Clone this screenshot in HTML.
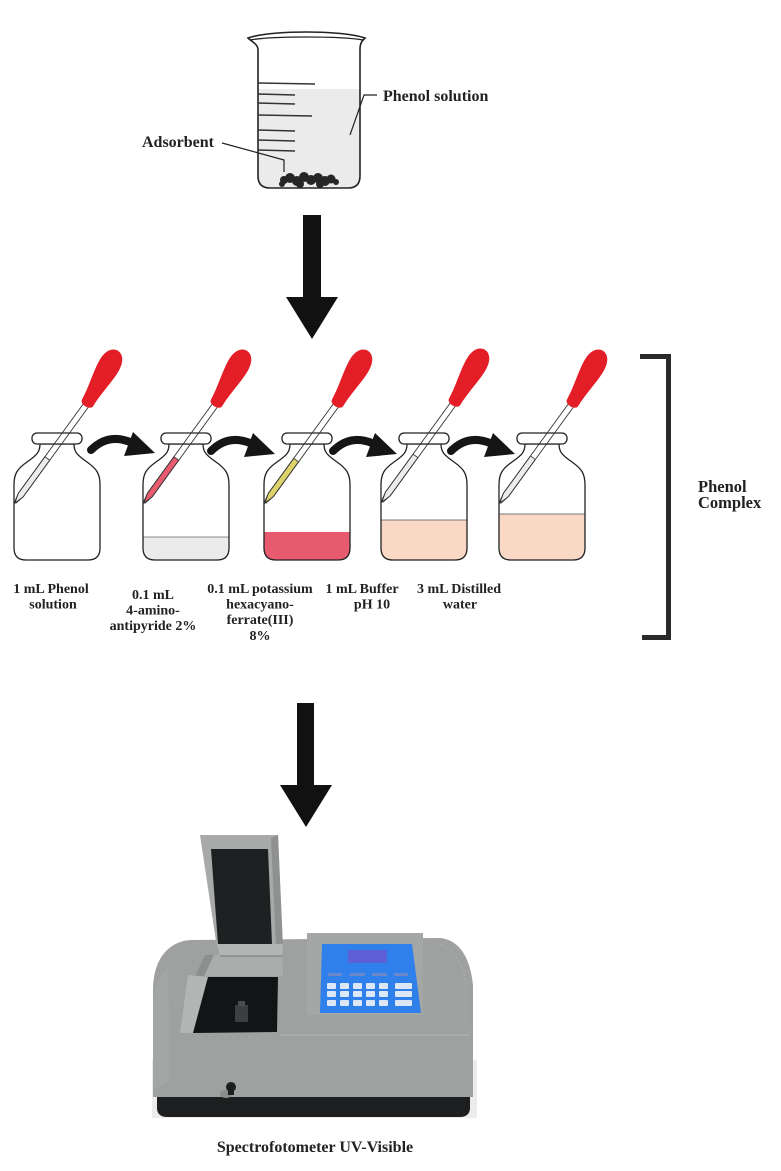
<!DOCTYPE html>
<html>
<head>
<meta charset="utf-8">
<style>
  html,body{margin:0;padding:0;background:#fff;}
  body{width:781px;height:1171px;overflow:hidden;position:relative;}
  svg{position:absolute;left:0;top:0;}
  text{font-family:"Liberation Serif",serif;font-weight:bold;fill:#222;}
</style>
</head>
<body>
<svg width="781" height="1171" viewBox="0 0 781 1171" xmlns="http://www.w3.org/2000/svg">
  <defs>
    <path id="bottleShape" d="M27,444 C27,452 24,455 14,462 C4,469 1,474 1,485 L1,548 C1,556 5,560 13,560 L75,560 C83,560 87,556 87,548 L87,485 C87,474 84,469 74,462 C64,455 61,452 61,444 Z"/>
    <clipPath id="bclip"><use href="#bottleShape"/></clipPath>
    <g id="dropperBase">
      <path d="M-0.8,0 L-3,-10 L-3,-123 M0.8,0 L3,-10 L3,-123" fill="none" stroke="#333" stroke-width="0.9"/>
      <g transform="rotate(-6 0 -122)">
        <path d="M-6.5,-124 C-7,-140 -11,-154 -11,-167 C-11,-178 -6,-184 0,-184 C6,-184 11,-178 11,-167 C11,-154 7,-140 6.5,-124 C6.5,-118 -6.5,-118 -6.5,-124 Z" fill="#e31e26"/>
      </g>
    </g>
    <g id="carrow">
      <path d="M3,3 Q20,-14 42,-5" fill="none" stroke="#151515" stroke-width="8" stroke-linecap="round"/>
      <polygon points="45,-15 67,6 36,9" fill="#151515"/>
    </g>
  </defs>

  <!-- ===== Beaker ===== -->
  <path d="M258,89 L360,89 L360,176 C360,184 356,188 348,188 L270,188 C262,188 258,184 258,176 Z" fill="#ebebeb"/>
  <path d="M258,50 C258,44 252,42 248,38 C262,33 290,32 306,32 C322,32 350,33 365,38 C361,42 360,44 360,50 L360,176 C360,184 356,188 348,188 L270,188 C262,188 258,184 258,176 Z" fill="none" stroke="#222" stroke-width="1.6"/>
  <path d="M250,40 C272,36 340,36 363,40" fill="none" stroke="#222" stroke-width="1.2"/>
  <g stroke="#333" stroke-width="1.6">
    <line x1="258" y1="83" x2="315" y2="84"/>
    <line x1="258" y1="94" x2="295" y2="95"/>
    <line x1="258" y1="103" x2="295" y2="104"/>
    <line x1="258" y1="115" x2="312" y2="116"/>
    <line x1="258" y1="130" x2="295" y2="131"/>
    <line x1="258" y1="140" x2="295" y2="141"/>
    <line x1="258" y1="150" x2="295" y2="151"/>
  </g>
  <g fill="#262626">
    <circle cx="284" cy="180" r="4"/><circle cx="290" cy="178" r="5"/><circle cx="297" cy="181" r="5"/>
    <circle cx="304" cy="177" r="5"/><circle cx="311" cy="180" r="5"/><circle cx="318" cy="178" r="5"/>
    <circle cx="325" cy="181" r="5"/><circle cx="331" cy="179" r="4.5"/><circle cx="336" cy="182" r="3"/>
    <circle cx="282" cy="184" r="3"/><circle cx="300" cy="184" r="4"/><circle cx="320" cy="184" r="4"/>
  </g>
  <polyline points="222,143 284,160 284,172" fill="none" stroke="#222" stroke-width="1.2"/>
  <polyline points="377,95 364,95 350,135" fill="none" stroke="#222" stroke-width="1.2"/>
  <text x="142" y="147" font-size="16">Adsorbent</text>
  <text x="383" y="101" font-size="16">Phenol solution</text>

  <!-- Arrow 1 -->
  <rect x="303" y="215" width="18" height="83" fill="#111"/>
  <polygon points="286,297 338,297 312,339" fill="#111"/>

  <!-- ===== Bottles ===== -->
  <g transform="translate(13,0)">
    <use href="#bottleShape" fill="#fff"/>
    <use href="#bottleShape" fill="none" stroke="#222" stroke-width="1.3"/>
    <rect x="19" y="433" width="50" height="11" rx="5" fill="#fff" stroke="#222" stroke-width="1.3"/>
  </g>
  <g transform="translate(142,0)">
    <use href="#bottleShape" fill="#fff"/>
    <rect x="0" y="537" width="90" height="25" fill="#ebebeb" clip-path="url(#bclip)"/>
    <line x1="1" y1="537" x2="87" y2="537" stroke="#666" stroke-width="0.7"/>
    <use href="#bottleShape" fill="none" stroke="#222" stroke-width="1.3"/>
    <rect x="19" y="433" width="50" height="11" rx="5" fill="#fff" stroke="#222" stroke-width="1.3"/>
  </g>
  <g transform="translate(263,0)">
    <use href="#bottleShape" fill="#fff"/>
    <rect x="0" y="532" width="90" height="30" fill="#e85a6e" clip-path="url(#bclip)"/>
    <use href="#bottleShape" fill="none" stroke="#222" stroke-width="1.3"/>
    <rect x="19" y="433" width="50" height="11" rx="5" fill="#fff" stroke="#222" stroke-width="1.3"/>
  </g>
  <g transform="translate(380,0)">
    <use href="#bottleShape" fill="#fff"/>
    <rect x="0" y="520" width="90" height="42" fill="#fad8c6" clip-path="url(#bclip)"/>
    <line x1="1" y1="520" x2="87" y2="520" stroke="#555" stroke-width="0.8"/>
    <use href="#bottleShape" fill="none" stroke="#222" stroke-width="1.3"/>
    <rect x="19" y="433" width="50" height="11" rx="5" fill="#fff" stroke="#222" stroke-width="1.3"/>
  </g>
  <g transform="translate(498,0)">
    <use href="#bottleShape" fill="#fff"/>
    <rect x="0" y="514" width="90" height="48" fill="#fad8c6" clip-path="url(#bclip)"/>
    <line x1="1" y1="514" x2="87" y2="514" stroke="#555" stroke-width="0.8"/>
    <use href="#bottleShape" fill="none" stroke="#222" stroke-width="1.3"/>
    <rect x="19" y="433" width="50" height="11" rx="5" fill="#fff" stroke="#222" stroke-width="1.3"/>
  </g>

  <!-- droppers -->
  <g transform="translate(15,503) rotate(36)">
    <path d="M0,0 L-3,-10 L-3,-55 L3,-55 L3,-10 Z" fill="#ececec" stroke="#333" stroke-width="0.8"/>
    <use href="#dropperBase"/>
  </g>
  <g transform="translate(144,503) rotate(36)">
    <path d="M0,0 L-3,-10 L-3,-55 L3,-55 L3,-10 Z" fill="#e85a6e" stroke="#333" stroke-width="0.8"/>
    <use href="#dropperBase"/>
  </g>
  <g transform="translate(265,503) rotate(36)">
    <path d="M0,0 L-3,-10 L-3,-53 L3,-53 L3,-10 Z" fill="#dcd36c" stroke="#333" stroke-width="0.8"/>
    <use href="#dropperBase"/>
  </g>
  <g transform="translate(382,502) rotate(36)">
    <path d="M0,0 L-3,-10 L-3,-57 L3,-57 L3,-10 Z" fill="#ececec" stroke="#333" stroke-width="0.8"/>
    <use href="#dropperBase"/>
  </g>
  <g transform="translate(500,503) rotate(36)">
    <path d="M0,0 L-3,-10 L-3,-56 L3,-56 L3,-10 Z" fill="#ececec" stroke="#333" stroke-width="0.8"/>
    <use href="#dropperBase"/>
  </g>

  <!-- curved arrows -->
  <use href="#carrow" transform="translate(88,447)"/>
  <use href="#carrow" transform="translate(208,448)"/>
  <use href="#carrow" transform="translate(330,448)"/>
  <use href="#carrow" transform="translate(448,448)"/>

  <!-- labels -->
  <g font-size="14" text-anchor="middle">
    <text x="51" y="593">1 mL Phenol</text>
    <text x="53" y="608.5">solution</text>
    <text x="153" y="599">0.1 mL</text>
    <text x="153" y="614.5">4-amino-</text>
    <text x="153" y="630">antipyride 2%</text>
    <text x="260" y="593">0.1 mL potassium</text>
    <text x="260" y="608.5">hexacyano-</text>
    <text x="260" y="624">ferrate(III)</text>
    <text x="260" y="640">8%</text>
    <text x="362" y="593">1 mL Buffer</text>
    <text x="372" y="608.5">pH 10</text>
    <text x="459" y="593">3 mL Distilled</text>
    <text x="460" y="608.5">water</text>
  </g>

  <!-- bracket -->
  <path d="M640,356.5 L668.5,356.5 L668.5,637.5 L642,637.5" fill="none" stroke="#2a2a2a" stroke-width="5"/>
  <text x="698" y="492" font-size="16.5">Phenol</text>
  <text x="698" y="508" font-size="16.5">Complex</text>

  <!-- Arrow 2 -->
  <rect x="297" y="703" width="17" height="83" fill="#111"/>
  <polygon points="280,785 332,785 306,827" fill="#111"/>

  <!-- ===== Spectrophotometer ===== -->
  <rect x="152" y="1060" width="325" height="58" fill="#ececec"/>
  <path d="M157,1090 L470,1090 L470,1108 C470,1114 466,1117 460,1117 L167,1117 C161,1117 157,1114 157,1108 Z" fill="#1c1e20"/>
  <path d="M153,1097 L153,990 C153,962 166,942 190,940 L440,938 C460,940 470,958 473,985 L473,1097 Z" fill="#9fa1a0"/>
  <path d="M153,1000 C155,985 160,975 168,968 L170,1080 L153,1090 Z" fill="#a4a6a5"/>
  <line x1="280" y1="1035" x2="470" y2="1035" stroke="#b3b5b4" stroke-width="1"/>
  <path d="M440,945 C455,950 464,965 466,985 L466,1030" fill="none" stroke="#b0b2b1" stroke-width="0.8" stroke-dasharray="2,2"/>
  <!-- panel -->
  <rect x="307" y="933" width="116" height="82" fill="#a5a7a6"/>
  <polygon points="322,944 412,944 421,1013 320,1013" fill="#2f80ea"/>
  <rect x="348" y="950" width="39" height="13" fill="#5c5fd6"/>
  <g fill="#6b87c8">
    <rect x="328" y="973" width="14" height="3"/><rect x="350" y="973" width="15" height="3"/>
    <rect x="372" y="973" width="15" height="3"/><rect x="394" y="973" width="14" height="3"/>
  </g>
  <g fill="#dce7f8">
    <rect x="327" y="983" width="9" height="6" rx="1"/><rect x="340" y="983" width="9" height="6" rx="1"/>
    <rect x="353" y="983" width="9" height="6" rx="1"/><rect x="366" y="983" width="9" height="6" rx="1"/>
    <rect x="379" y="983" width="9" height="6" rx="1"/><rect x="395" y="983" width="17" height="6" rx="1"/>
    <rect x="327" y="991" width="9" height="6" rx="1"/><rect x="340" y="991" width="9" height="6" rx="1"/>
    <rect x="353" y="991" width="9" height="6" rx="1"/><rect x="366" y="991" width="9" height="6" rx="1"/>
    <rect x="379" y="991" width="9" height="6" rx="1"/><rect x="395" y="991" width="17" height="6" rx="1"/>
    <rect x="327" y="1000" width="9" height="6" rx="1"/><rect x="340" y="1000" width="9" height="6" rx="1"/>
    <rect x="353" y="1000" width="9" height="6" rx="1"/><rect x="366" y="1000" width="9" height="6" rx="1"/>
    <rect x="379" y="1000" width="9" height="6" rx="1"/><rect x="395" y="1000" width="17" height="6" rx="1"/>
  </g>
  <!-- hinge and compartment -->
  <polygon points="205,955 282,955 283,976 195,976" fill="#abadac"/>
  <polygon points="205,955 214,955 204,976 195,976" fill="#8d8f8e"/>
  <polygon points="188,975 208,977 193,1033 180,1033" fill="#b3b5b4"/>
  <polygon points="208,977 278,977 277,1032 193,1033" fill="#121416"/>
  <rect x="235" y="1005" width="13" height="17" fill="#3c3e40"/>
  <rect x="238" y="1001" width="7" height="5" fill="#4a4c4e"/>
  <!-- lid -->
  <polygon points="200,835 278,835 283,948 217,948" fill="#a8aaa9"/>
  <polygon points="271,838 278,835 283,948 276,946" fill="#8f9190"/>
  <polygon points="211,849 268,849 272,944 218,944" fill="#1e2022"/>
  <polygon points="217,944 283,944 282,956 220,956" fill="#b3b5b4"/>
  <line x1="220" y1="956" x2="282" y2="956" stroke="#7e807f" stroke-width="1.2"/>
  <!-- knob -->
  <ellipse cx="226" cy="1094" rx="6" ry="4" fill="#8a8c8b"/>
  <rect x="228" y="1087" width="6" height="8" fill="#1c1e20"/>
  <circle cx="231" cy="1087" r="5" fill="#1c1e20"/>

  <text x="315" y="1152" font-size="16" text-anchor="middle">Spectrofotometer UV-Visible</text>
</svg>
</body>
</html>
